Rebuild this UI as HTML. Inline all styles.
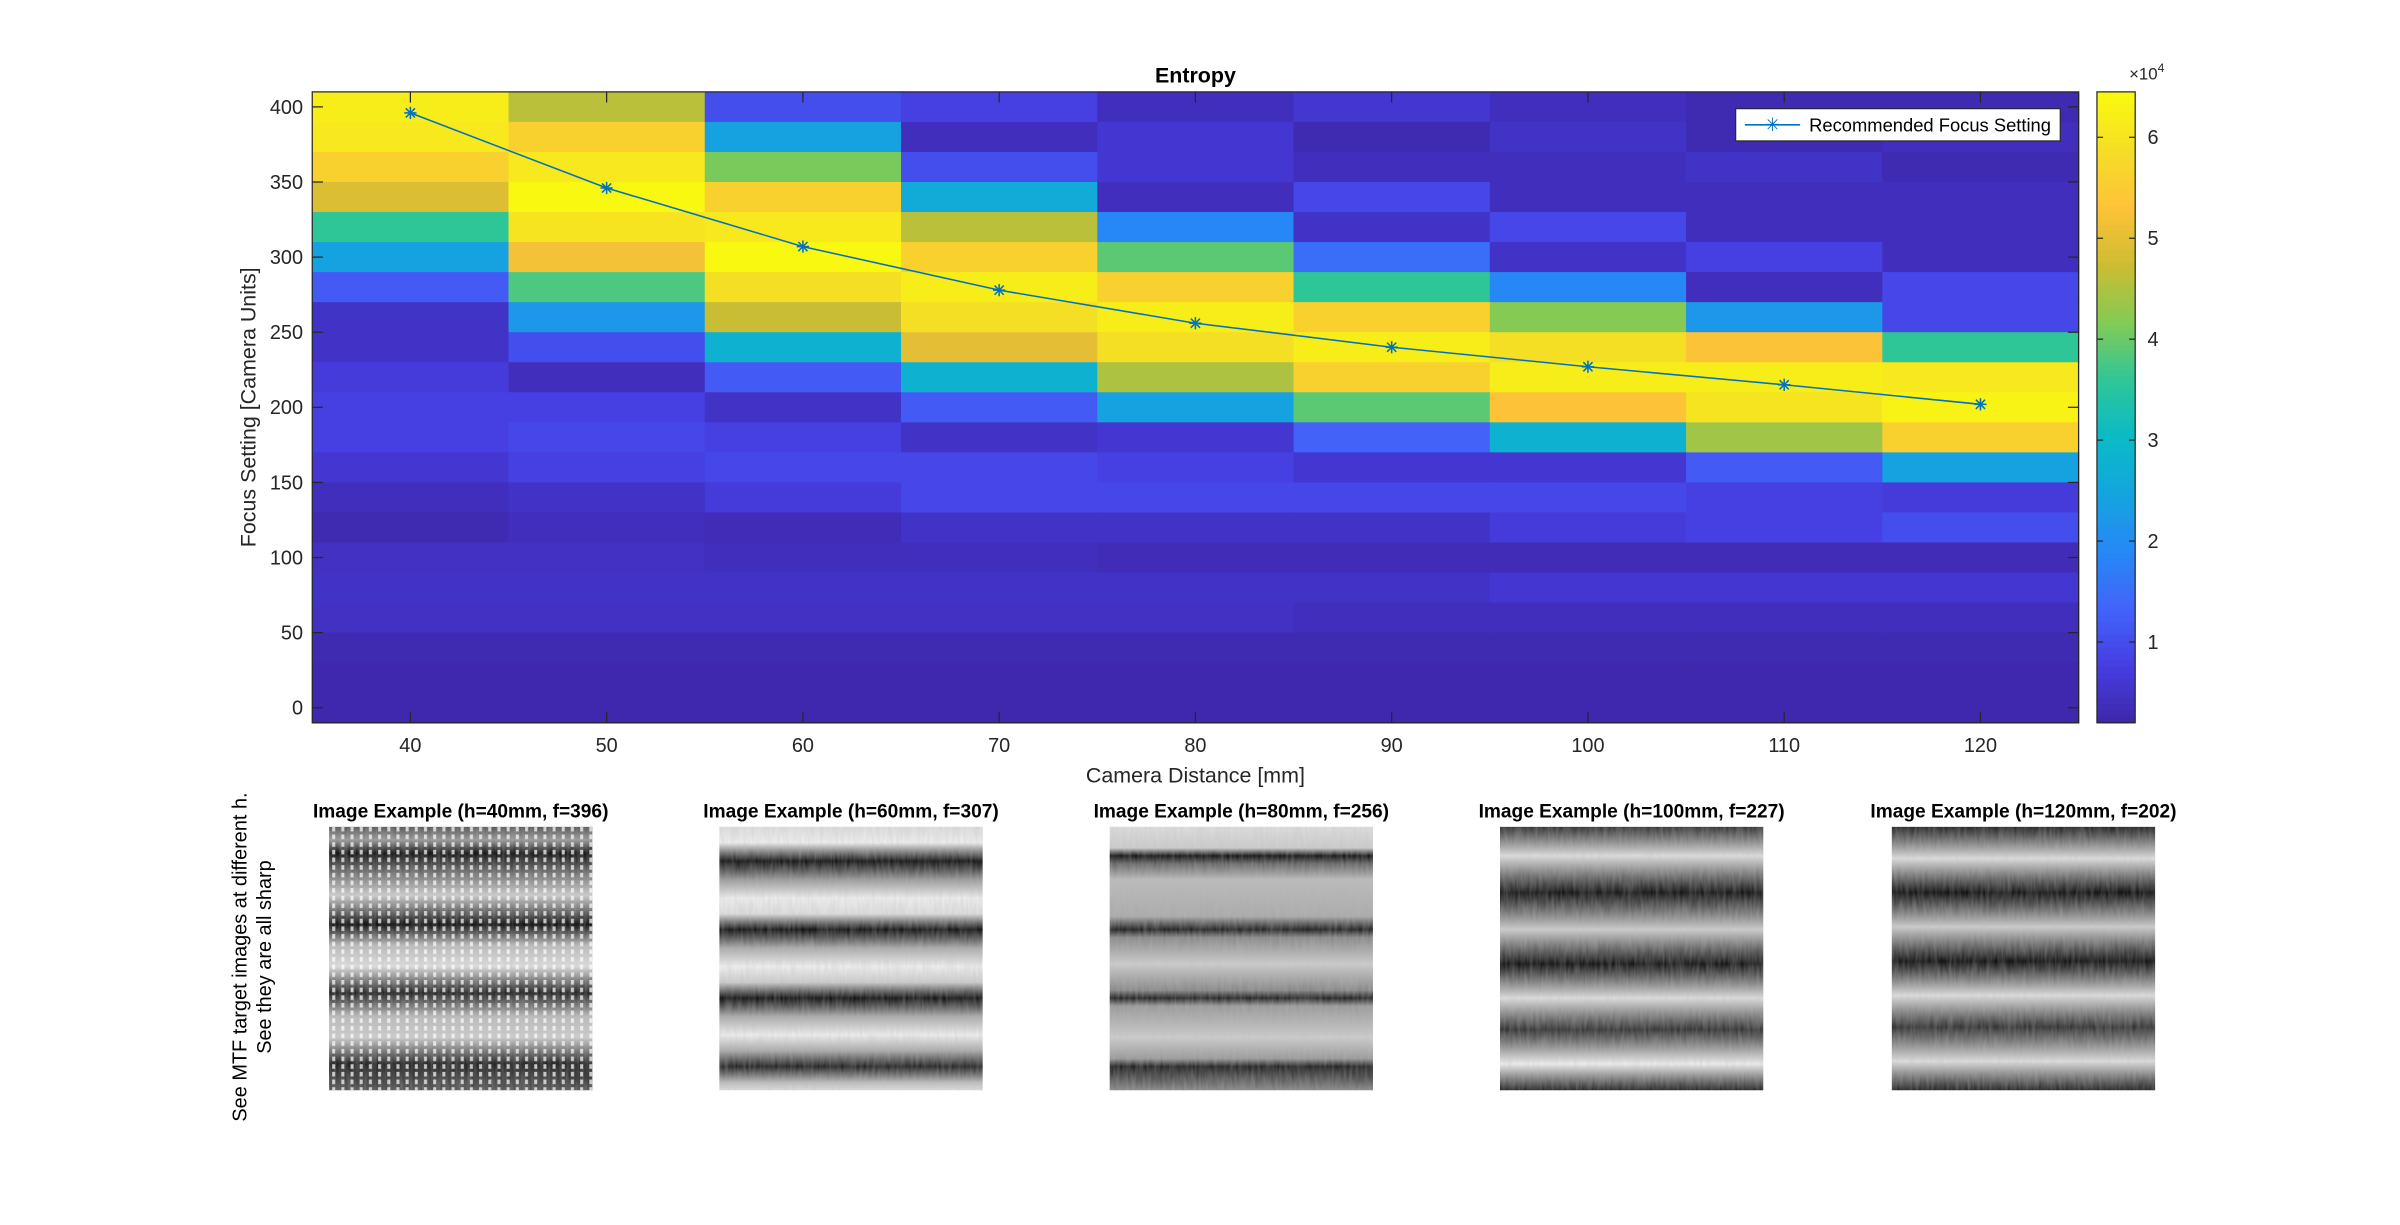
<!DOCTYPE html>
<html><head><meta charset="utf-8"><style>
html,body{margin:0;padding:0;background:#fff}
svg{display:block;font-family:"Liberation Sans",Arial,sans-serif}
</style></head><body>
<svg id="fig" width="2400" height="1225" viewBox="0 0 1568 800" preserveAspectRatio="none" xmlns="http://www.w3.org/2000/svg">
<defs>
<linearGradient id="g1" x1="0" y1="0" x2="0" y2="1">
<stop offset="0" stop-color="#555"/><stop offset="0.05" stop-color="#999"/><stop offset="0.1" stop-color="#111"/><stop offset="0.18" stop-color="#777"/><stop offset="0.26" stop-color="#ccc"/><stop offset="0.37" stop-color="#111"/><stop offset="0.45" stop-color="#bbb"/><stop offset="0.53" stop-color="#ddd"/><stop offset="0.63" stop-color="#222"/><stop offset="0.72" stop-color="#bbb"/><stop offset="0.8" stop-color="#ccc"/><stop offset="0.9" stop-color="#222"/><stop offset="1" stop-color="#555"/>
</linearGradient>
<linearGradient id="g2" x1="0" y1="0" x2="0" y2="1">
<stop offset="0" stop-color="#ddd"/><stop offset="0.06" stop-color="#eee"/><stop offset="0.13" stop-color="#111"/><stop offset="0.2" stop-color="#999"/><stop offset="0.27" stop-color="#eee"/><stop offset="0.33" stop-color="#ddd"/><stop offset="0.39" stop-color="#111"/><stop offset="0.46" stop-color="#aaa"/><stop offset="0.53" stop-color="#eee"/><stop offset="0.59" stop-color="#ccc"/><stop offset="0.65" stop-color="#111"/><stop offset="0.72" stop-color="#aaa"/><stop offset="0.79" stop-color="#eee"/><stop offset="0.85" stop-color="#aaa"/><stop offset="0.91" stop-color="#222"/><stop offset="0.97" stop-color="#bbb"/><stop offset="1" stop-color="#ddd"/>
</linearGradient>
<linearGradient id="g3" x1="0" y1="0" x2="0" y2="1">
<stop offset="0" stop-color="#ddd"/><stop offset="0.08" stop-color="#ccc"/><stop offset="0.11" stop-color="#111"/><stop offset="0.14" stop-color="#666"/><stop offset="0.2" stop-color="#bbb"/><stop offset="0.34" stop-color="#aaa"/><stop offset="0.39" stop-color="#222"/><stop offset="0.42" stop-color="#888"/><stop offset="0.52" stop-color="#ccc"/><stop offset="0.62" stop-color="#888"/><stop offset="0.65" stop-color="#222"/><stop offset="0.68" stop-color="#999"/><stop offset="0.8" stop-color="#ccc"/><stop offset="0.88" stop-color="#999"/><stop offset="0.91" stop-color="#222"/><stop offset="1" stop-color="#888"/>
</linearGradient>
<linearGradient id="g4" x1="0" y1="0" x2="0" y2="1">
<stop offset="0" stop-color="#333"/><stop offset="0.11" stop-color="#ddd"/><stop offset="0.25" stop-color="#151515"/><stop offset="0.39" stop-color="#ccc"/><stop offset="0.52" stop-color="#151515"/><stop offset="0.65" stop-color="#ddd"/><stop offset="0.77" stop-color="#333"/><stop offset="0.9" stop-color="#eee"/><stop offset="1" stop-color="#222"/>
</linearGradient>
<linearGradient id="g5" x1="0" y1="0" x2="0" y2="1">
<stop offset="0" stop-color="#222"/><stop offset="0.12" stop-color="#ddd"/><stop offset="0.25" stop-color="#111"/><stop offset="0.38" stop-color="#ccc"/><stop offset="0.51" stop-color="#111"/><stop offset="0.64" stop-color="#ddd"/><stop offset="0.76" stop-color="#333"/><stop offset="0.89" stop-color="#ddd"/><stop offset="1" stop-color="#222"/>
</linearGradient>
<pattern id="dots" width="6" height="5" patternUnits="userSpaceOnUse">
<rect x="1" y="0" width="2" height="3" fill="#fff" opacity="0.7"/>
</pattern>
<filter id="noise" x="0" y="0" width="1" height="1">
<feTurbulence type="fractalNoise" baseFrequency="0.5 0.08" numOctaves="2" seed="3"/>
<feColorMatrix type="matrix" values="0 0 0 0 0.5  0 0 0 0 0.5  0 0 0 0 0.5  0 0 0 0.9 -0.2"/>
</filter>
</defs>
<g id="heat"></g>
<g id="axes"></g>
<g id="cbar"></g>
<text x="781" y="54" text-anchor="middle" font-size="14" font-weight="bold">Entropy</text>
<text x="781" y="511" text-anchor="middle" font-size="14" fill="#262626">Camera Distance [mm]</text>
<text transform="translate(167,266) rotate(-90)" text-anchor="middle" font-size="14" fill="#262626">Focus Setting [Camera Units]</text>
<g>
<rect x="1134" y="71" width="212" height="21" fill="#fff" stroke="#262626" stroke-width="0.7"/>
<line x1="1140" y1="81.5" x2="1176" y2="81.5" stroke="#0072bd" stroke-width="1"/>
<text x="1158" y="85.5" text-anchor="middle" font-size="12" fill="#0072bd">✳</text>
<text x="1182" y="86" font-size="12" fill="#000">Recommended Focus Setting</text>
</g>
<g>
<text transform="translate(161,625) rotate(-90)" text-anchor="middle" font-size="13" fill="#000">See MTF target images at different h.</text>
<text transform="translate(177,625) rotate(-90)" text-anchor="middle" font-size="13" fill="#000">See they are all sharp</text>
</g>
<g id="examples"></g>
</svg>
<script>
const distances = [40,50,60,70,80,90,100,110,120];
const focusRows = [400,380,360,340,320,300,280,260,240,220,200,180,160,140,120,100,80,60,40,20,0];
const entropyRows = [
[6.2,4.6,1.0,0.8,0.4,0.6,0.4,0.3,0.3],
[6.1,5.6,2.4,0.4,0.6,0.3,0.5,0.3,0.4],
[5.6,6.1,4.1,1.0,0.6,0.4,0.4,0.5,0.3],
[4.9,6.4,5.6,2.6,0.4,0.9,0.4,0.4,0.4],
[3.6,6.0,6.1,4.6,1.9,0.5,0.9,0.4,0.4],
[2.4,5.2,6.4,5.6,3.9,1.5,0.5,0.8,0.4],
[1.2,3.8,5.9,6.2,5.6,3.6,1.9,0.4,0.9],
[0.5,2.2,4.7,5.9,6.2,5.6,4.2,2.2,0.9],
[0.5,1.0,2.8,5.0,5.9,6.2,5.9,5.3,3.6],
[0.7,0.4,1.2,2.8,4.5,5.6,6.2,6.2,6.1],
[0.8,0.8,0.5,1.2,2.4,3.9,5.3,6.0,6.3],
[0.8,0.9,0.8,0.5,0.6,1.3,2.8,4.4,5.6],
[0.6,0.8,0.9,0.9,0.8,0.6,0.6,1.2,2.4],
[0.4,0.5,0.7,0.9,0.9,0.9,0.9,0.8,0.7],
[0.3,0.4,0.35,0.5,0.5,0.5,0.7,0.8,1.0],
[0.45,0.45,0.4,0.4,0.35,0.35,0.35,0.35,0.35],
[0.5,0.5,0.5,0.5,0.5,0.5,0.6,0.6,0.6],
[0.45,0.45,0.45,0.45,0.45,0.4,0.4,0.4,0.4],
[0.3,0.3,0.3,0.3,0.3,0.3,0.3,0.3,0.3],
[0.25,0.25,0.25,0.25,0.25,0.25,0.25,0.25,0.25],
[0.25,0.25,0.25,0.25,0.25,0.25,0.25,0.25,0.25]
];
const recommended = [396,346,307,278,256,240,227,215,202];
const xTicks = [40,50,60,70,80,90,100,110,120];
const yTicks = [0,50,100,150,200,250,300,350,400];
const cbarTicks = [1,2,3,4,5,6];
const exampleTitles = ["Image Example (h=40mm, f=396)","Image Example (h=60mm, f=307)","Image Example (h=80mm, f=256)","Image Example (h=100mm, f=227)","Image Example (h=120mm, f=202)"];

const NS="http://www.w3.org/2000/svg";
const AX={l:204,r:1358,t:60,b:472};
const X0=35,X1=125,Y0=-10,Y1=410,CMIN=0.2,CMAX=6.45;
function xs(d){return AX.l+(d-X0)*(AX.r-AX.l)/(X1-X0);}
function ys(v){return AX.b-(v-Y0)*(AX.b-AX.t)/(Y1-Y0);}
const pal=[[62,38,168],[70,62,226],[66,100,250],[38,136,246],[20,165,222],[10,187,198],[48,198,150],[132,203,84],[206,188,50],[254,195,56],[245,222,38],[249,251,14]];
function cmap(v){let t=(v-CMIN)/(CMAX-CMIN);t=Math.max(0,Math.min(1,t));const p=t*(pal.length-1);const i=Math.min(pal.length-2,Math.floor(p));const f=p-i;const c=pal[i].map((a,k)=>Math.round(a+(pal[i+1][k]-a)*f));return `rgb(${c[0]},${c[1]},${c[2]})`;}
function mk(tag,attrs,parent){const e=document.createElementNS(NS,tag);for(const k in attrs)e.setAttribute(k,attrs[k]);parent.appendChild(e);return e;}

const heat=document.getElementById('heat');
const cw=(AX.r-AX.l)/(X1-X0)*10, rh=(AX.b-AX.t)/(Y1-Y0)*20;
focusRows.forEach((f,ri)=>{distances.forEach((d,ci)=>{
  const r=mk('rect',{x:(xs(d)-cw/2).toFixed(2),y:(ys(f)-rh/2).toFixed(2),width:(cw+0.5).toFixed(2),height:(rh+0.5).toFixed(2),fill:cmap(entropyRows[ri][ci])},heat);
  
  
});});

const ax=document.getElementById('axes');
const frame=mk('rect',{x:AX.l,y:AX.t,width:AX.r-AX.l,height:AX.b-AX.t,fill:'none',stroke:'#262626','stroke-width':0.8},ax);


xTicks.forEach(t=>{const x=xs(t);
  mk('line',{x1:x,y1:AX.b,x2:x,y2:AX.b-7,stroke:'#262626','stroke-width':0.8},ax);
  mk('line',{x1:x,y1:AX.t,x2:x,y2:AX.t+7,stroke:'#262626','stroke-width':0.8},ax);
  const tx=mk('text',{x:x,y:AX.b+19,'text-anchor':'middle','font-size':13,fill:'#262626'},ax);tx.textContent=t;
  
  
});
yTicks.forEach(t=>{const y=ys(t);
  mk('line',{x1:AX.l,y1:y,x2:AX.l+7,y2:y,stroke:'#262626','stroke-width':0.8},ax);
  mk('line',{x1:AX.r,y1:y,x2:AX.r-7,y2:y,stroke:'#262626','stroke-width':0.8},ax);
  const tx=mk('text',{x:AX.l-6,y:y+4.5,'text-anchor':'end','font-size':13,fill:'#262626'},ax);tx.textContent=t;
  
  
});
const pts=distances.map((d,i)=>xs(d).toFixed(2)+','+ys(recommended[i]).toFixed(2)).join(' ');
const pl=mk('polyline',{points:pts,fill:'none',stroke:'#0072bd','stroke-width':1},ax);


distances.forEach((d,i)=>{const cx=xs(d),cy=ys(recommended[i]);
  const g=mk('g',{stroke:'#0072bd','stroke-width':1},ax);
  
  
  mk('line',{x1:cx-4,y1:cy,x2:cx+4,y2:cy},g);mk('line',{x1:cx,y1:cy-4,x2:cx,y2:cy+4},g);
  mk('line',{x1:cx-3,y1:cy-3,x2:cx+3,y2:cy+3},g);mk('line',{x1:cx-3,y1:cy+3,x2:cx+3,y2:cy-3},g);
});

const cb=document.getElementById('cbar');
const CB={l:1370,r:1395,t:60,b:472};
const N=100;
for(let i=0;i<N;i++){const v=CMIN+(CMAX-CMIN)*(i+0.5)/N;const h=(CB.b-CB.t)/N;
  const r=mk('rect',{x:CB.l,y:(CB.b-(i+1)*h).toFixed(2),width:CB.r-CB.l,height:(h+0.4).toFixed(2),fill:cmap(v)},cb);
  
  
}
mk('rect',{x:CB.l,y:CB.t,width:CB.r-CB.l,height:CB.b-CB.t,fill:'none',stroke:'#262626','stroke-width':0.8},cb);
function cy(v){return CB.b-(v-CMIN)*(CB.b-CB.t)/(CMAX-CMIN);}
cbarTicks.forEach(t=>{const y=cy(t);
  mk('line',{x1:CB.r,y1:y,x2:CB.r-4,y2:y,stroke:'#262626','stroke-width':0.8},cb);
  mk('line',{x1:CB.l,y1:y,x2:CB.l+4,y2:y,stroke:'#262626','stroke-width':0.8},cb);
  const tx=mk('text',{x:CB.r+8,y:y+4.5,'font-size':13,fill:'#262626'},cb);tx.textContent=t;
  
  
});
const ex=mk('text',{x:1391,y:52,'font-size':11,fill:'#262626'},cb);


ex.innerHTML='×10<tspan dy="-5" font-size="8">4</tspan>';

const exg=document.getElementById('examples');
const exX=[215,470,725,980,1236];
exampleTitles.forEach((t,i)=>{
  const x=exX[i];
  const tt=mk('text',{x:x+86,y:534,'text-anchor':'middle','font-size':12.5,'font-weight':'bold'},exg);tt.textContent=t;
  
  
  const im=mk('rect',{x:x,y:540,width:172,height:172,fill:`url(#g${i+1})`},exg);
  
  
  const nz=mk('rect',{x:x,y:540,width:172,height:172,filter:'url(#noise)',opacity:0.5},exg);
  
  
  if(i===0){const d=mk('rect',{x:x,y:540,width:172,height:172,fill:'url(#dots)'},exg);
    
    }
});
</script>
</body></html>
